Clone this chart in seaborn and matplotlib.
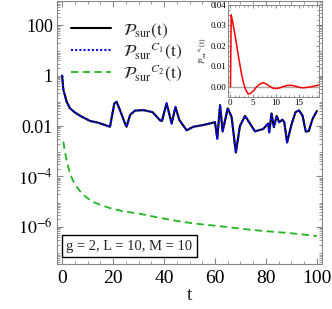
import numpy as np
import pandas as pd
import seaborn as sns
import matplotlib
matplotlib.use("Agg")
import matplotlib.pyplot as plt
from matplotlib.ticker import FixedLocator, LogLocator, NullFormatter, MultipleLocator

# survival probability (log10 values)
t_main = [0, 0.5, 1.8, 3.1, 5.1, 7.7, 11, 14.2, 18.8, 20.5, 21.4, 22.7, 24.7, 25.3,
          26.7, 28.6, 31.9, 35.5, 38.5, 39.2, 41, 43, 44.5, 46, 48.9, 51.5, 55.4,
          60, 60.9, 62, 63, 65, 66.5, 68.2, 69.8, 71.8, 75.7, 78.9, 80.9, 81.3,
          82.2, 83.1, 84.2, 85.2, 86.5, 87.2, 88.3, 90, 91.6, 93, 94.4, 95.6,
          96.8, 98.3, 100]
logp_main = [0, -0.57, -1.04, -1.3, -1.47, -1.63, -1.8, -1.87, -2.03, -1.1, -1.04,
             -1.37, -1.9, -2.03, -1.56, -1.39, -1.37, -1.45, -1.78, -1.8, -1.1, -1.9,
             -1.25, -1.76, -2.17, -2.03, -1.96, -1.85, -2.5, -1.17, -2.22, -1.3,
             -1.63, -3.05, -2.0, -1.6, -2.21, -2.12, -1.9, -2.25, -1.5, -2.05, -1.6,
             -1.85, -1.75, -1.85, -2.65, -1.95, -1.45, -1.38, -1.6, -2.22, -2.2,
             -1.72, -1.4]
p_sur = [10 ** v for v in logp_main]
p_c1 = list(p_sur)  # C1 curve lies on top of the full one

t_c2 = [0.5, 1.0, 1.8, 2.5, 3.1, 4.2, 5.7, 7.5, 9.7, 12, 14.9, 19, 24, 30.6, 38.4,
        45, 51.5, 58, 64.6, 71, 77.8, 84, 90.9, 100]
logp_c2 = [-2.62, -2.98, -3.35, -3.65, -3.87, -4.15, -4.4, -4.65, -4.84, -5.0, -5.12,
           -5.26, -5.38, -5.48, -5.64, -5.76, -5.86, -5.93, -6.0, -6.08, -6.15,
           -6.2, -6.26, -6.36]
p_c2 = [10 ** v for v in logp_c2]

# inset curve
t_ins = [0, 0.05, 0.2, 0.5, 1.1, 1.8, 2.5, 3.0, 3.4, 3.9, 4.4, 5.0, 5.6, 6.2, 6.8,
         7.3, 7.9, 8.6, 9.3, 10, 10.8, 11.6, 12.5, 13.4, 14.3, 15.2, 16, 17, 18,
         19, 19.5]
p_ins = [0, 0.0, 0.0352, 0.032, 0.0245, 0.0148, 0.0059, 0.001, -0.0015, -0.0035,
         -0.0033, -0.0022, -0.0005, 0.0008, 0.0017, 0.0019, 0.0014, 0.0003, -0.0006,
         -0.0009, -0.0006, 0.0001, 0.0006, 0.0007, 0.0003, -0.0003, -0.0005,
         -0.0003, 0.0001, 0.0006, 0.0009]

sns.set_style("ticks")
plt.rcParams["font.family"] = ["Liberation Serif", "DejaVu Serif"]
plt.rcParams["mathtext.fontset"] = "stix"

fig = plt.figure(figsize=(3.32, 3.09), dpi=100)
ax = fig.add_axes([57 / 332, 45 / 309, 265 / 332, 263 / 309])

df_main = pd.DataFrame({"t": t_main, "p": p_sur, "c1": p_c1})
df_c2 = pd.DataFrame({"t": t_c2, "p": p_c2})

sns.lineplot(data=df_main, x="t", y="p", ax=ax, color="black", lw=1.5,
             label=r"$\mathcal{P}_{\rm sur}(\mathrm{t})$")
sns.lineplot(data=df_main, x="t", y="c1", ax=ax, color="#0a0aff", lw=1.5,
             linestyle=(0, (1.0, 1.0)),
             label=r"$\mathcal{P}_{\rm sur}{}^{C_1}(\mathrm{t})$")
sns.lineplot(data=df_c2, x="t", y="p", ax=ax, color="#22b522", lw=1.3,
             linestyle=(0, (4, 2.5)),
             label=r"$\mathcal{P}_{\rm sur}{}^{C_2}(\mathrm{t})$")

ax.set_yscale("log")
ax.set_xlim(-2, 102)
ax.set_ylim(3.4e-8, 900)
ax.yaxis.set_major_locator(FixedLocator([1e2, 1, 1e-2, 1e-4, 1e-6]))
ax.set_yticklabels(["100", "1", "0.01", r"$10^{-4}$", r"$10^{-6}$"])
ax.yaxis.set_minor_locator(LogLocator(base=10, subs=np.arange(2, 10), numticks=30))
ax.yaxis.set_minor_formatter(NullFormatter())
ax.xaxis.set_major_locator(MultipleLocator(20))
ax.xaxis.set_minor_locator(MultipleLocator(5))
ax.tick_params(which="both", direction="in", top=True, right=True, colors="#888888",
               labelcolor="black")
ax.tick_params(axis="y", labelsize=13, pad=3)
ax.tick_params(axis="x", labelsize=14, pad=4)
ax.tick_params(which="major", length=4)
ax.tick_params(which="minor", length=2)
for s in ax.spines.values():
    s.set_color("#888888")
    s.set_linewidth(0.8)
ax.set_xlabel("t", fontsize=14, labelpad=0)
ax.set_ylabel("")

leg = ax.legend(loc="upper left", bbox_to_anchor=(0.0, 0.975), frameon=False,
                fontsize=12.5, handlelength=2.3, labelspacing=0.05, handletextpad=0.7,
                borderaxespad=0.4)

ax.text(0.035, 0.055, "g = 2, L = 10, M = 10", transform=ax.transAxes, fontsize=10.5,
        bbox=dict(boxstyle="square,pad=0.3", fc="white", ec="black", lw=1))

# inset
axi = fig.add_axes([228 / 332, 212 / 309, 91 / 332, 92 / 309])
df_ins = pd.DataFrame({"t": t_ins, "p": p_ins})
axi.axhline(0, color="#aaaaaa", lw=1)
sns.lineplot(data=df_ins, x="t", y="p", ax=axi, color="red", lw=1.1)
axi.set_xlim(-0.5, 19.5)
axi.set_ylim(-0.005, 0.04)
axi.xaxis.set_major_locator(MultipleLocator(5))
axi.xaxis.set_minor_locator(MultipleLocator(1))
axi.yaxis.set_major_locator(MultipleLocator(0.01))
axi.yaxis.set_minor_locator(MultipleLocator(0.0025))
axi.yaxis.set_major_formatter(matplotlib.ticker.FormatStrFormatter("%.2f"))
axi.tick_params(which="both", direction="in", top=True, right=True, colors="#888888",
                labelcolor="black", labelsize=6.5, pad=1.5)
axi.tick_params(which="major", length=2.5)
axi.tick_params(which="minor", length=1.2)
for s in axi.spines.values():
    s.set_color("#888888")
    s.set_linewidth(0.7)
axi.set_xlabel("")
axi.set_ylabel(r"$\mathcal{P}_{\rm sur}{}^{h_1}(\mathrm{t})$", fontsize=5.5, labelpad=1)

fig.savefig("out.png", dpi=100)
